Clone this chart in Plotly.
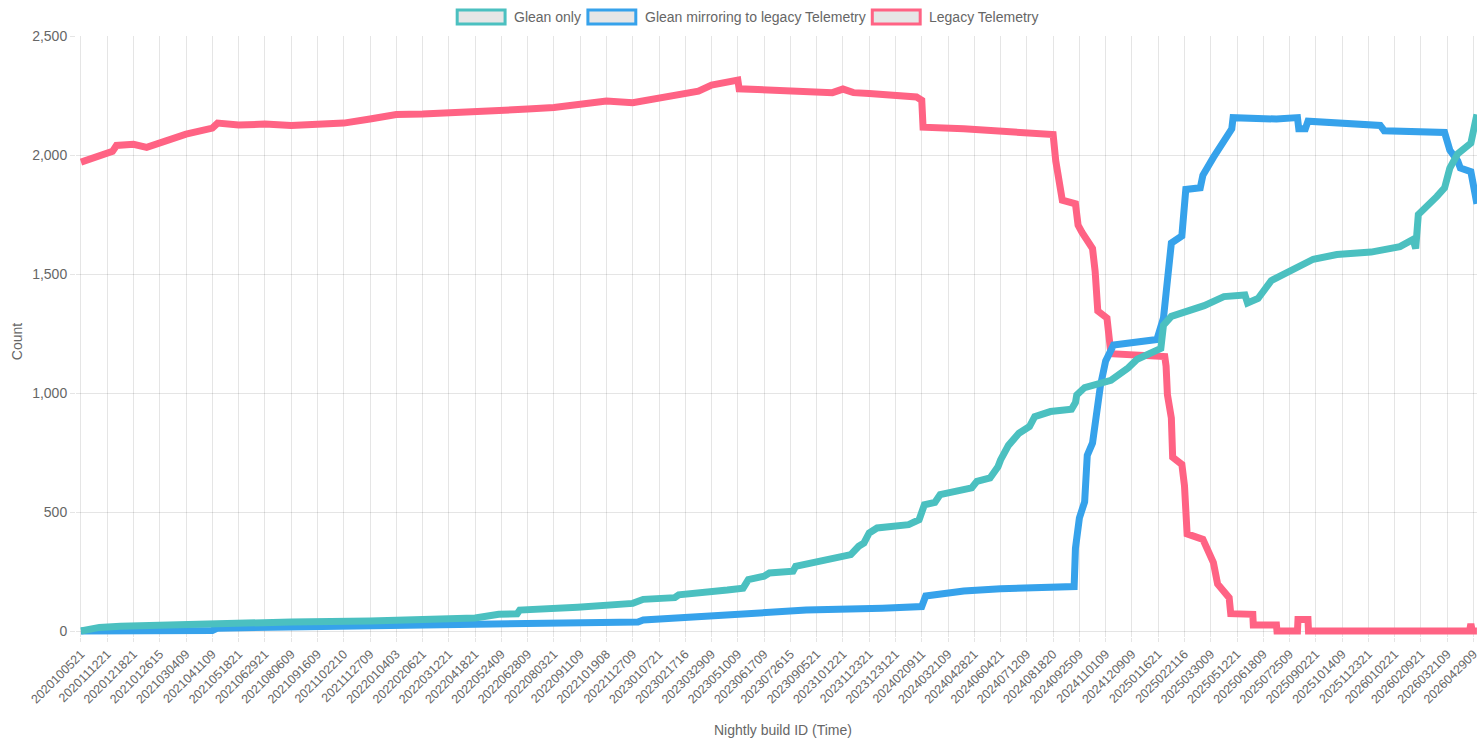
import plotly.graph_objects as go

# ---------------- data ----------------
build_ids = [
    "2020100521", "2020111221", "2020121821", "2021012615", "2021030409", "2021041109",
    "2021051821", "2021062921", "2021080609", "2021091609", "2021102210", "2021112709",
    "2022010403", "2022020621", "2022031221", "2022041821", "2022052409", "2022062809",
    "2022080321", "2022091109", "2022101908", "2022112709", "2023010721", "2023021716",
    "2023032909", "2023051009", "2023061709", "2023072615", "2023090521", "2023101221",
    "2023112321", "2023123121", "2024020911", "2024032109", "2024042821", "2024060421",
    "2024071209", "2024081820", "2024092509", "2024110109", "2024120909", "2025011621",
    "2025022116", "2025033009", "2025051221", "2025061809", "2025072509", "2025090221",
    "2025101409", "2025112321", "2026010221", "2026020921", "2026032109", "2026042909",
]

# position along the build axis (in units of labelled builds) and count
glean_only_pos = [0, 0.7, 1.5, 3, 5, 5.3, 8, 11, 13, 15, 15.9, 16.6, 16.7, 18.8, 18.9, 21.0, 21.4,
                  22.6, 22.75, 24.6, 25.2, 25.4, 26.0, 26.2, 27.1, 27.2, 29.3, 29.6, 29.8, 30.0,
                  30.3, 31.5, 31.9, 32.1, 32.5, 32.7, 33.9, 34.1, 34.6, 34.9, 35.0, 35.3, 35.7,
                  36.1, 36.3, 36.9, 37.7, 37.85, 37.9, 38.2, 39.2, 39.85, 40.2, 41.1, 41.2, 41.5,
                  42.5, 42.75, 43.5, 44.3, 44.4, 44.8, 45.3, 46.0, 46.9, 47.8, 49.1, 50.2, 50.7,
                  50.8, 50.9, 51.6, 51.9, 52.1, 52.4, 52.9, 53.13]
glean_only_count = [0, 15, 20, 24, 30, 35, 38, 42, 45, 55, 70, 72, 88, 95, 100, 116, 133,
                    140, 152, 172, 180, 216, 230, 244, 251, 272, 321, 356, 370, 412,
                    433, 447, 468, 530, 540, 573, 601, 629, 643, 690, 719, 780, 831,
                    859, 901, 922, 932, 960, 992, 1023, 1053, 1105, 1142, 1187, 1285, 1322,
                    1360, 1367, 1405, 1412, 1378, 1397, 1472, 1510, 1562, 1582, 1592, 1615, 1645,
                    1607, 1750, 1825, 1862, 1945, 2005, 2050, 2170]

mirroring_pos = [0, 5.0, 5.2, 10, 14, 15.9, 21.2, 21.4, 24.2, 27.6, 30.5, 32.0, 32.15, 33.6,
                 35.0, 37.8, 37.85, 38.0, 38.2, 38.22, 38.3, 38.5, 38.6, 38.7, 38.8, 39.0, 39.3,
                 40.95, 41.2, 41.3, 41.5, 41.9, 42.0, 42.05, 42.6, 42.7, 43.1, 43.5, 43.8, 43.85,
                 45.5, 46.3, 46.35, 46.6, 46.7, 49.45, 49.6, 51.9, 52.1, 52.4, 52.5, 52.9, 53.13]
mirroring_count = [0, 2, 12, 18, 24, 28, 38, 46, 63, 88, 96, 103, 147, 168,
                   177, 187, 348, 475, 543, 640, 738, 790, 880, 933, 1030, 1135, 1202,
                   1225, 1315, 1420, 1630, 1660, 1750, 1855, 1862, 1915, 1990, 2065, 2110, 2157,
                   2151, 2157, 2110, 2110, 2142, 2124, 2102, 2095, 2020, 1975, 1945, 1930, 1795]

legacy_pos = [0, 0.5, 1.0, 1.2, 1.35, 2, 2.5, 3, 3.5, 4, 5, 5.2, 6, 7, 8, 9, 10, 11, 12, 13,
              14, 15, 16, 17, 18, 19, 20, 21, 22, 23, 23.5, 24, 24.5, 25.0, 25.05, 26, 27, 28,
              28.6, 29, 29.4, 30, 31, 31.8, 32.0, 32.05, 33.6, 35, 37.0, 37.1, 37.3, 37.35,
              37.85, 37.95, 38.1, 38.5, 38.6, 38.65, 38.7, 39.05, 39.1, 39.2, 41.25, 41.3,
              41.35, 41.45, 41.5, 41.55, 41.9, 42.0, 42.02, 42.05, 42.1, 42.7, 42.9, 43.1,
              43.26, 43.7, 43.76, 44.6, 44.62, 45.5, 45.52, 46.3, 46.32, 46.7, 46.72, 52.85,
              52.9, 52.95, 53.13]
legacy_count = [1970, 1987, 2004, 2015, 2040, 2045, 2032, 2050, 2065, 2088, 2113, 2134, 2126,
                2130, 2124, 2130, 2134, 2151, 2170, 2172, 2176, 2180, 2188, 2193, 2200, 2214,
                2227, 2220, 2238, 2252, 2268, 2294, 2305, 2315, 2278, 2272, 2268, 2262, 2262,
                2277, 2262, 2258, 2253, 2244, 2230, 2117, 2110, 2100, 2086, 1975, 1855, 1810,
                1795, 1705, 1675, 1607, 1510, 1450, 1345, 1315, 1240, 1165, 1153, 1112,
                993, 940, 895, 730, 700, 610, 520, 453, 408, 385, 333, 288,
                198, 140, 73, 70, 25, 25, 0, 0, 48, 48, 0, 0,
                30, 0, 0]

y_ticks = [0, 500, 1000, 1500, 2000, 2500]

series = [
    ("Legacy Telemetry", legacy_pos, legacy_count, "#ff6384"),
    ("Glean mirroring to legacy Telemetry", mirroring_pos, mirroring_count, "#36a2eb"),
    ("Glean only", glean_only_pos, glean_only_count, "#4bc0c0"),
]

# ---------------- figure ----------------
W, H = 1480, 738
PL, PR, PT, PB = 76, 1480, 36, 637
FONT = "Liberation Sans, Arial, sans-serif"
GREY = "#666666"
GRID = "rgba(0,0,0,0.1)"

fig = go.Figure()
for name, xs, ys, col in series:
    fig.add_trace(go.Scatter(x=xs, y=ys, mode="lines", name=name,
                             line=dict(color=col, width=7), showlegend=False))

step = 26.33
fig.update_layout(
    width=W, height=H,
    margin=dict(l=PL, r=W - PR, t=PT, b=H - PB),
    plot_bgcolor="white", paper_bgcolor="white",
    font=dict(family=FONT, color=GREY, size=14),
    xaxis=dict(
        range=[(PL - 81) / step, (PR - 81) / step],
        tickmode="array", tickvals=list(range(len(build_ids))), ticktext=build_ids,
        tickangle=-45, tickfont=dict(size=12.5, color=GREY),
        ticklabeloverflow="allow",
        showgrid=True, gridcolor=GRID, gridwidth=1, zeroline=False,
        ticks="outside", ticklen=4, tickcolor=GRID, showline=False,
    ),
    yaxis=dict(
        range=[-(PB - 631) / 0.238, 2500],
        tickmode="array", tickvals=y_ticks, tickformat=",d",
        tickfont=dict(size=14, color=GREY),
        showgrid=True, gridcolor=GRID, gridwidth=1, zeroline=False,
        ticks="outside", ticklen=5, tickcolor=GRID, showline=False,
    ),
    hovermode=False,
)

def px_x(p):
    return (p - PL) / (PR - PL)

def px_y(p):
    return (PB - p) / (PB - PT)

# legend (Chart.js style boxes)
legend_items = [("Glean only", "#4bc0c0", 458, 506, 513),
                ("Glean mirroring to legacy Telemetry", "#36a2eb", 589, 637, 644),
                ("Legacy Telemetry", "#ff6384", 874, 922, 929)]
for text, col, x0, x1, tx in legend_items:
    fig.add_shape(type="rect", xref="paper", yref="paper",
                  x0=px_x(x0), x1=px_x(x1), y0=px_y(24), y1=px_y(10),
                  line=dict(color=col, width=3), fillcolor="#e6e6e6")
    fig.add_annotation(text=text, xref="paper", yref="paper", x=px_x(tx), y=px_y(17),
                       xanchor="left", yanchor="middle", showarrow=False,
                       font=dict(size=14, color=GREY, family=FONT))

fig.add_annotation(text="Count", xref="paper", yref="paper", x=px_x(17), y=px_y(342),
                   textangle=-90, xanchor="center", yanchor="middle", showarrow=False,
                   font=dict(size=14, color=GREY, family=FONT))
fig.add_annotation(text="Nightly build ID (Time)", xref="paper", yref="paper",
                   x=px_x(785), y=px_y(730), xanchor="center", yanchor="middle",
                   showarrow=False, font=dict(size=14, color=GREY, family=FONT))

fig.write_html("out.html", config={"displayModeBar": False},
               post_script="document.body.style.margin='0';")
